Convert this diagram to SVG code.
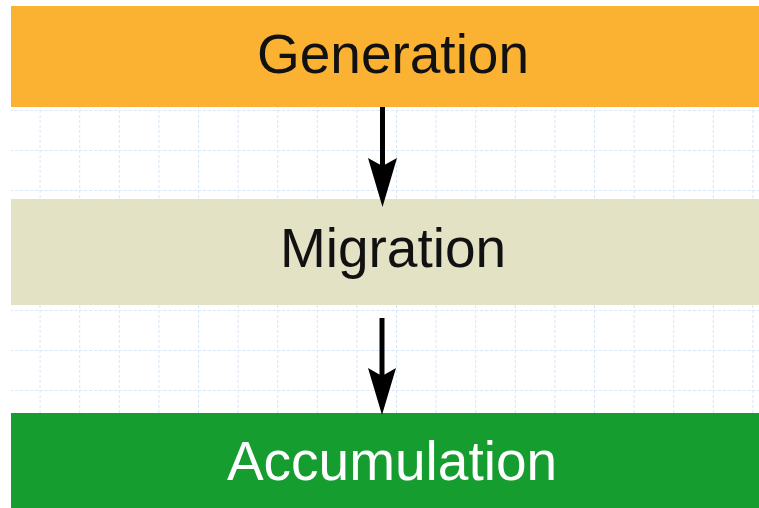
<svg xmlns="http://www.w3.org/2000/svg" width="759" height="508" viewBox="0 0 759 508">
  <style>
    .label { font-family: "Liberation Sans", Arial, sans-serif; font-size: 55px; text-anchor: middle; }
    .grid { stroke: #dce8f7; stroke-width: 1; stroke-dasharray: 3 2; fill: none; }
    .shaft { stroke: #000; stroke-width: 5; fill: none; }
    .head { fill: #000; }
  </style>
  <defs>
    <pattern id="gridpat" x="0" y="110" width="39.6" height="40" patternUnits="userSpaceOnUse">
      <path d="M0.5 0 V40 M0 0.5 H39.6" stroke="#d6e6f8" stroke-width="1" stroke-dasharray="3 2" fill="none"/>
    </pattern>
  </defs>
  <rect x="0" y="0" width="759" height="508" fill="#ffffff"/>
  <rect x="11" y="107" width="748" height="92" fill="url(#gridpat)"/>
  <rect x="11" y="305" width="748" height="108" fill="url(#gridpat)"/>

  <g id="generation">
    <rect x="11" y="6" width="748" height="101" fill="#fbb233"/>
    <text class="label" x="393" y="73" fill="#111">Generation</text>
  </g>
  <g id="migration">
    <rect x="11" y="199" width="748" height="106" fill="#e4e2c5"/>
    <text class="label" x="393" y="267" fill="#111">Migration</text>
  </g>
  <g id="accumulation">
    <rect x="11" y="413" width="748" height="95" fill="#159d2f"/>
    <text class="label" x="392" y="480" fill="#ffffff">Accumulation</text>
  </g>

  <g id="connectors">
    <line class="shaft" x1="382.5" y1="107" x2="382.5" y2="166"/>
    <path class="head" d="M368 158 L382.5 166 L397 158 L382.5 207 Z"/>
    <line class="shaft" x1="382" y1="318" x2="382" y2="376"/>
    <path class="head" d="M368 368 L382 376 L396 368 L382 415 Z"/>
  </g>
</svg>
